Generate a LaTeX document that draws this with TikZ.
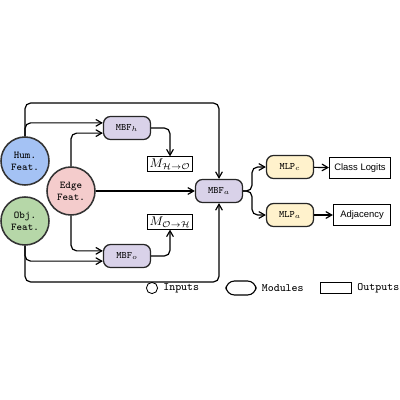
\documentclass[tikz,border=0pt]{standalone}
\usepackage{amsmath}
\usepackage{amssymb}
\usepackage{fontspec}
\newfontfamily\outfont{Liberation Sans}
\usepackage{tikz}
\usetikzlibrary{arrows}

\definecolor{humblue}{HTML}{A4C2F4}
\definecolor{edgepink}{HTML}{F4CCCC}
\definecolor{objgreen}{HTML}{B6D7A8}
\definecolor{modpurple}{HTML}{D9D2E9}
\definecolor{mlpyellow}{HTML}{FFF2CC}

\begin{document}
\begin{tikzpicture}
[x=0.025cm,y=-0.025cm,>=angle 60,line width=0.85pt,
  link/.style={->,rounded corners=4pt},
  input node/.style={circle,draw=black!80,line width=1.1pt,minimum size=1.2cm,inner sep=0pt,align=center,font=\ttfamily\fontsize{7.4}{8.4}\selectfont},
  module node/.style={rectangle,rounded corners=5pt,draw=black!85,line width=0.9pt,fill=modpurple,minimum width=1.175cm,minimum height=0.575cm,font=\fontsize{7}{8}\selectfont},
  mlp node/.style={module node,fill=mlpyellow},
  msg node/.style={rectangle,draw,line width=0.7pt,inner sep=1.5pt,font=\fontsize{9}{10}\selectfont},
  out node/.style={rectangle,draw,line width=1pt,minimum width=1.42cm,minimum height=0.53cm,font=\outfont\fontsize{6.7}{7}\selectfont},
  legend text/.style={anchor=west,font=\ttfamily\fontsize{8}{9}\selectfont}]
  \useasboundingbox (0,0) rectangle (400,400);

  % inputs
  \node[input node,fill=humblue] (hum) at (25,161) {Hum.\\Feat.};
  \node[input node,fill=edgepink] (edge) at (71,191) {Edge\\Feat.};
  \node[input node,fill=objgreen] (obj) at (25,221) {Obj.\\Feat.};

  % modules
  \node[module node] (mbfh) at (127,128) {\texttt{MBF}$_h$};
  \node[module node] (mbfo) at (127,256) {\texttt{MBF}$_o$};
  \node[module node] (mbfa) at (219,191) {\texttt{MBF}$_a$};
  \node[mlp node] (mlpc) at (290,167) {\texttt{MLP}$_c$};
  \node[mlp node] (mlpa) at (290,215) {\texttt{MLP}$_a$};

  % outputs
  \node[msg node] (mho) at (170,164) {$M_{\mathcal{H}\to\mathcal{O}}$};
  \node[msg node] (moh) at (170,222) {$M_{\mathcal{O}\to\mathcal{H}}$};
  \node[out node] (logits) at (360,168) {Class Logits};
  \node[out node] (adj) at (362,215) {Adjacency};

  \coordinate (top) at (120,103);
  \coordinate (bot) at (120,282);
  \coordinate (split) at (252,191);

  \foreach \from/\to in {hum.north/mbfh.168, edge.north/mbfh.192,
      edge.south/mbfo.168, obj.south/mbfo.192}
    \draw[link] (\from) |- (\to);

  \draw[link] (hum.north) |- (top) -| (mbfa.north);
  \draw[link] (obj.south) |- (bot) -| (mbfa.south);
  \draw[link] (edge.east) -- (mbfa.west);
  \draw[link] (mbfh.east) -| (mho.north);
  \draw[link] (mbfo.east) -| (moh.south);
  \draw[link] (mbfa.east) -- (split) |- (mlpc.west);
  \draw[link] (mbfa.east) -- (split) |- (mlpa.west);
  \draw[link] (mlpc) -- (logits);
  \draw[link] (mlpa) -- (adj);

  % legend
  \node[circle,draw,line width=0.6pt,minimum size=0.28cm,inner sep=0pt] (leginput) at (152,288) {};
  \node[legend text] (leginputtxt) at (leginput.east) {Inputs};
  \node[rectangle,rounded corners=6pt,draw,line width=0.8pt,minimum width=0.75cm,minimum height=0.35cm] (legmodule) at (241,288) {};
  \node[legend text] (legmoduletxt) at (legmodule.east) {Modules};
  \node[rectangle,draw,line width=0.8pt,minimum width=0.78cm,minimum height=0.26cm] (legoutput) at (336,288) {};
  \node[legend text] (legoutputtxt) at (legoutput.east) {Outputs};

\end{tikzpicture}
\end{document}
